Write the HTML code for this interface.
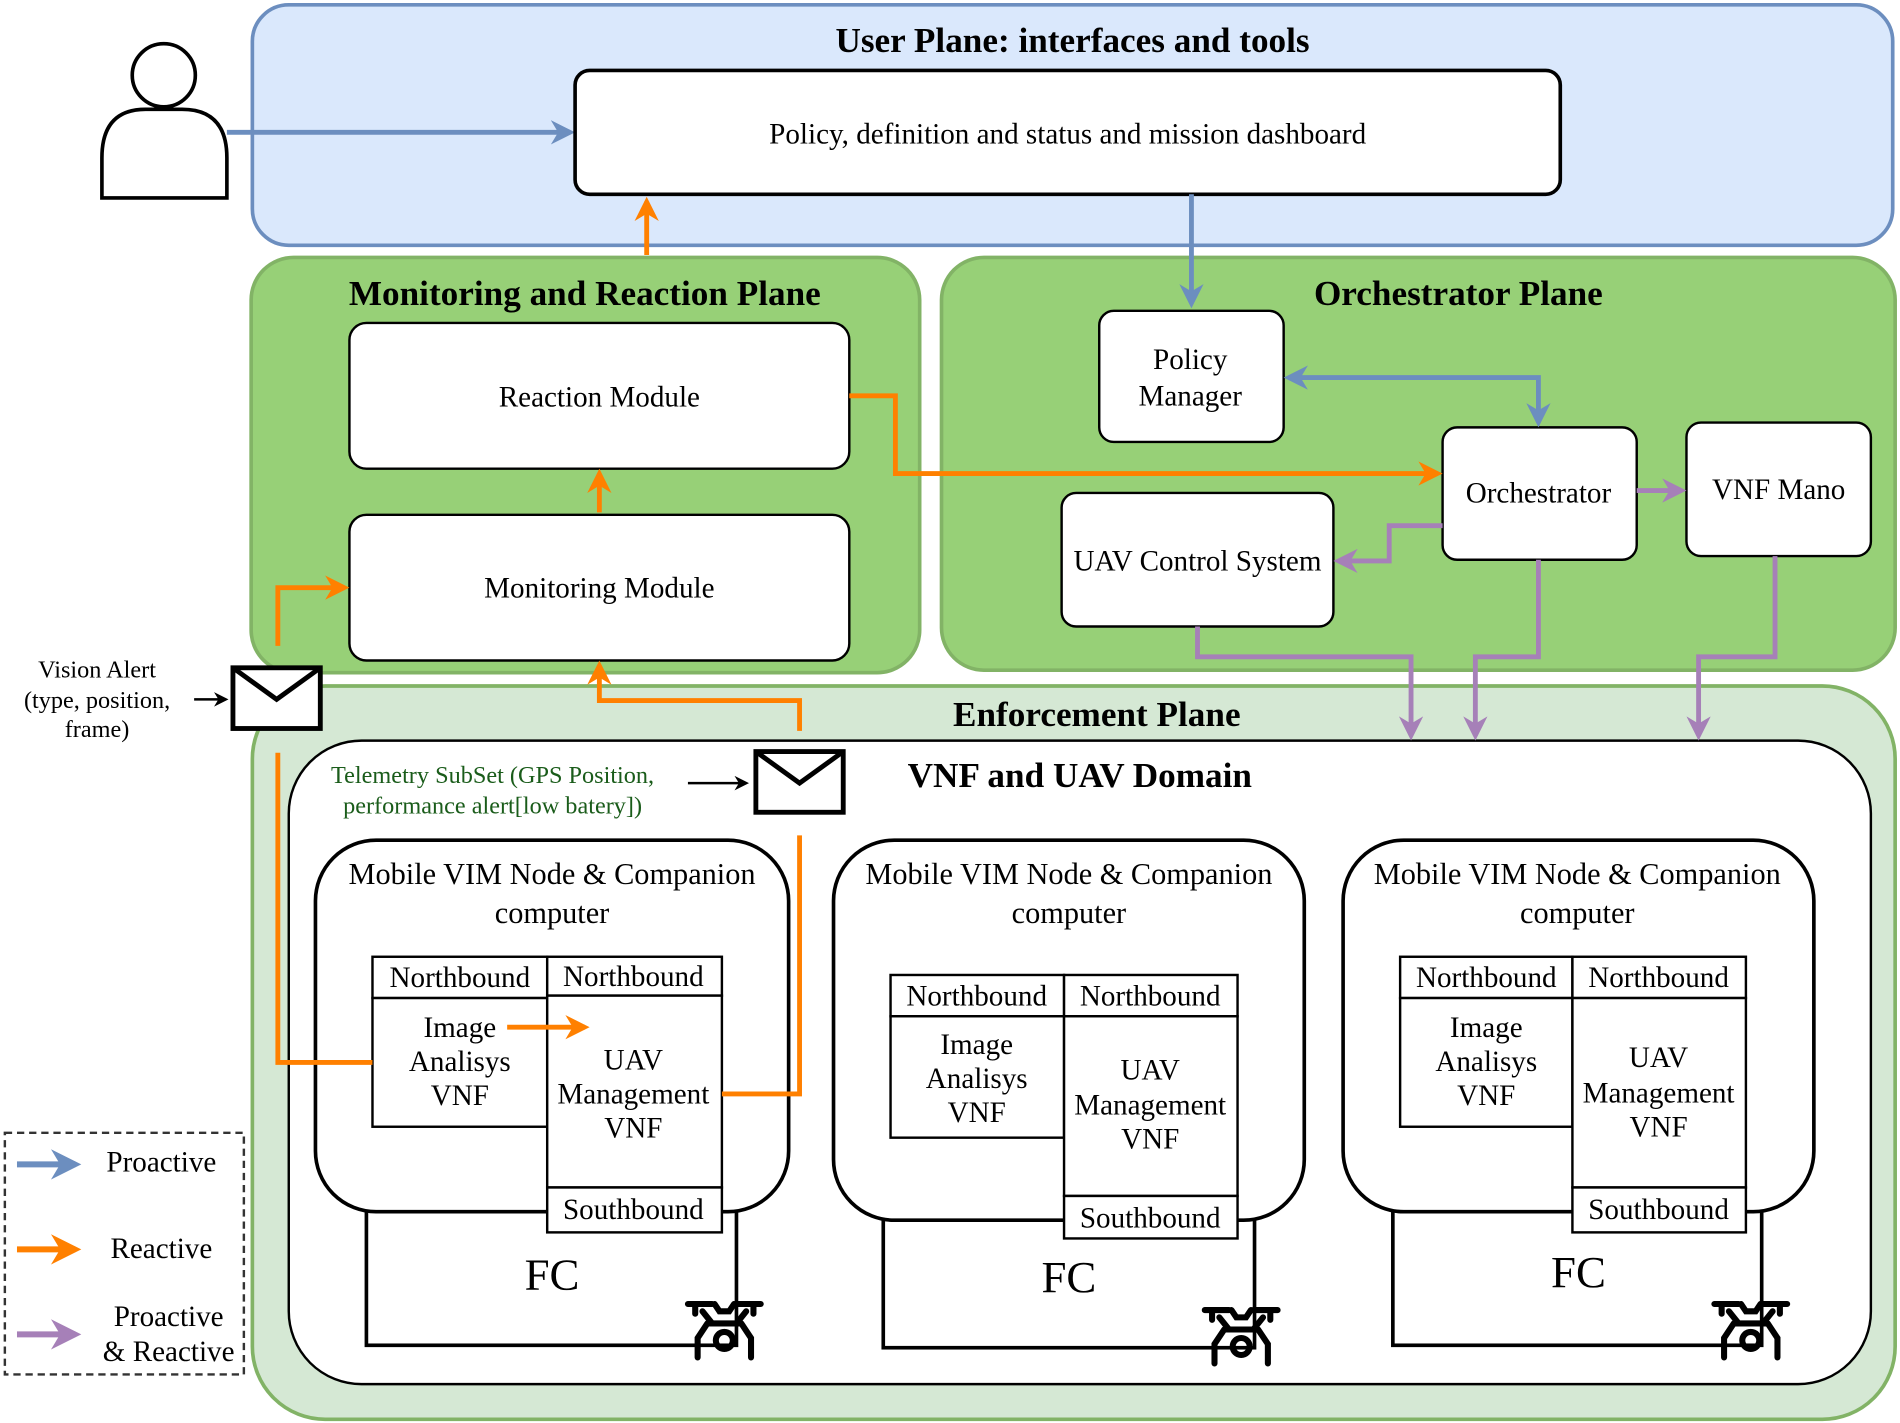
<!DOCTYPE html>
<html><head><meta charset="utf-8"><style>html,body{margin:0;padding:0;background:#fff}svg{display:block}</style></head>
<body>
<svg width="1900" height="1423" viewBox="0 0 1566 1172" preserveAspectRatio="none" xmlns="http://www.w3.org/2000/svg" font-family="Liberation Serif, serif">
<defs>
<marker id="ab" viewBox="0 0 10 10" refX="8" refY="5" markerWidth="5" markerHeight="5" orient="auto-start-reverse"><path d="M0,0 L10,5 L0,10 L3,5z" fill="#6c8ebf"/></marker>
<marker id="ao" viewBox="0 0 10 10" refX="8" refY="5" markerWidth="5" markerHeight="5" orient="auto-start-reverse"><path d="M0,0 L10,5 L0,10 L3,5z" fill="#ff8000"/></marker>
<marker id="ap" viewBox="0 0 10 10" refX="8" refY="5" markerWidth="5" markerHeight="5" orient="auto-start-reverse"><path d="M0,0 L10,5 L0,10 L3,5z" fill="#a680b8"/></marker>
<marker id="ak" viewBox="0 0 10 10" refX="8" refY="5" markerWidth="6" markerHeight="6" orient="auto"><path d="M0,0 L10,5 L0,10 L3,5z" fill="#000"/></marker>
<g id="drone" fill="none" stroke="#000" stroke-width="5" stroke-linecap="round">
<path d="M-30,-18 H-10 M10,-18 H30 M-24,-18 V-10 M24,-18 V-10 M-8,-18 L-4,-12 H4 L8,-18 M-18,-12 L-10,-2 M18,-12 L10,-2 M-14,-2 H14 M-14,-2 L-22,10 V26 M14,-2 L22,10 V26"/>
<circle cx="0" cy="12" r="7"/>
</g>
<g id="env"><rect x="0" y="0" width="72" height="50" fill="#fff" stroke="#000" stroke-width="4"/><path d="M0,0 L36,26 L72,0" fill="none" stroke="#000" stroke-width="4"/></g>
</defs>

<rect x="208" y="4" width="1352" height="198" rx="30" fill="#dae8fc" stroke="#6c8ebf" stroke-width="3"/>
<text x="884" y="43" font-size="29" font-weight="bold" text-anchor="middle">User Plane: interfaces and tools</text>
<circle cx="135" cy="62" r="26" fill="#fff" stroke="#000" stroke-width="3"/>
<path d="M84,163 V130 Q84,90 120,90 H150 Q187,90 187,130 V163 Z" fill="#fff" stroke="#000" stroke-width="3"/>
<line x1="187" y1="109" x2="470" y2="109" stroke="#6c8ebf" stroke-width="4" marker-end="url(#ab)"/>
<rect x="474" y="58" width="812" height="102" rx="12" fill="#fff" stroke="#000" stroke-width="3"/>
<text x="880" y="118" font-size="24" text-anchor="middle">Policy, definition and status and mission dashboard</text>

<rect x="207" y="212" width="551" height="342" rx="35" fill="#97d077" stroke="#82b366" stroke-width="3"/>
<text x="482" y="251" font-size="29" font-weight="bold" text-anchor="middle">Monitoring and Reaction Plane</text>
<rect x="288" y="266" width="412" height="120" rx="14" fill="#fff" stroke="#000" stroke-width="2"/>
<text x="494" y="335" font-size="24" text-anchor="middle">Reaction Module</text>
<rect x="288" y="424" width="412" height="120" rx="14" fill="#fff" stroke="#000" stroke-width="2"/>
<text x="494" y="492" font-size="24" text-anchor="middle">Monitoring Module</text>

<rect x="776" y="212" width="786" height="340" rx="35" fill="#97d077" stroke="#82b366" stroke-width="3"/>
<text x="1202" y="251" font-size="29" font-weight="bold" text-anchor="middle">Orchestrator Plane</text>
<rect x="906" y="256" width="152" height="108" rx="12" fill="#fff" stroke="#000" stroke-width="2"/>
<text x="981" y="304" font-size="24" text-anchor="middle">Policy</text>
<text x="981" y="334" font-size="24" text-anchor="middle">Manager</text>
<rect x="1189" y="352" width="160" height="109" rx="12" fill="#fff" stroke="#000" stroke-width="2"/>
<text x="1268" y="414" font-size="24" text-anchor="middle">Orchestrator</text>
<rect x="1390" y="348" width="152" height="110" rx="12" fill="#fff" stroke="#000" stroke-width="2"/>
<text x="1466" y="411" font-size="24" text-anchor="middle">VNF Mano</text>
<rect x="875" y="406" width="224" height="110" rx="12" fill="#fff" stroke="#000" stroke-width="2"/>
<text x="987" y="470" font-size="24" text-anchor="middle">UAV Control System</text>

<rect x="208" y="565" width="1354" height="604" rx="60" fill="#d5e8d4" stroke="#82b366" stroke-width="3"/>
<text x="904" y="598" font-size="29" font-weight="bold" text-anchor="middle">Enforcement Plane</text>
<rect x="238" y="610" width="1304" height="530" rx="60" fill="#fff" stroke="#000" stroke-width="2"/>
<text x="890" y="648" font-size="29" font-weight="bold" text-anchor="middle">VNF and UAV Domain</text>

<rect x="302" y="990" width="305" height="118" fill="#fff" stroke="#000" stroke-width="3"/>
<rect x="260" y="692" width="390" height="306" rx="50" fill="#fff" stroke="#000" stroke-width="3"/>
<text x="455" y="728" font-size="25" text-anchor="middle">Mobile VIM Node &amp; Companion</text>
<text x="455" y="760" font-size="25" text-anchor="middle">computer</text>
<g fill="#fff" stroke="#000" stroke-width="2">
<rect x="307" y="788" width="144" height="34"/><rect x="307" y="822" width="144" height="106"/>
<rect x="451" y="788" width="144" height="32"/><rect x="451" y="820" width="144" height="158"/><rect x="451" y="978" width="144" height="37"/>
</g>
<g font-size="24" text-anchor="middle">
<text x="379" y="813">Northbound</text><text x="379" y="854">Image</text><text x="379" y="882">Analisys</text><text x="379" y="910">VNF</text>
<text x="522" y="812">Northbound</text><text x="522" y="881">UAV</text><text x="522" y="909">Management</text><text x="522" y="937">VNF</text><text x="522" y="1004">Southbound</text>
</g>
<text x="455" y="1062" font-size="37" text-anchor="middle">FC</text>
<use href="#drone" x="597" y="1092"/>

<rect x="728" y="997" width="306" height="113" fill="#fff" stroke="#000" stroke-width="3"/>
<rect x="687" y="692" width="388" height="313" rx="50" fill="#fff" stroke="#000" stroke-width="3"/>
<text x="881" y="728" font-size="25" text-anchor="middle">Mobile VIM Node &amp; Companion</text>
<text x="881" y="760" font-size="25" text-anchor="middle">computer</text>
<g fill="#fff" stroke="#000" stroke-width="2">
<rect x="734" y="803" width="143" height="34"/><rect x="734" y="837" width="143" height="100"/>
<rect x="877" y="803" width="143" height="34"/><rect x="877" y="837" width="143" height="148"/><rect x="877" y="985" width="143" height="35"/>
</g>
<g font-size="24" text-anchor="middle">
<text x="805" y="828">Northbound</text><text x="805" y="868">Image</text><text x="805" y="896">Analisys</text><text x="805" y="924">VNF</text>
<text x="948" y="828">Northbound</text><text x="948" y="889">UAV</text><text x="948" y="918">Management</text><text x="948" y="946">VNF</text><text x="948" y="1011">Southbound</text>
</g>
<text x="881" y="1064" font-size="37" text-anchor="middle">FC</text>
<use href="#drone" x="1023" y="1097"/>

<rect x="1148" y="992" width="304" height="116" fill="#fff" stroke="#000" stroke-width="3"/>
<rect x="1107" y="692" width="388" height="306" rx="50" fill="#fff" stroke="#000" stroke-width="3"/>
<text x="1300" y="728" font-size="25" text-anchor="middle">Mobile VIM Node &amp; Companion</text>
<text x="1300" y="760" font-size="25" text-anchor="middle">computer</text>
<g fill="#fff" stroke="#000" stroke-width="2">
<rect x="1154" y="788" width="142" height="34"/><rect x="1154" y="822" width="142" height="106"/>
<rect x="1296" y="788" width="143" height="34"/><rect x="1296" y="822" width="143" height="156"/><rect x="1296" y="978" width="143" height="37"/>
</g>
<g font-size="24" text-anchor="middle">
<text x="1225" y="813">Northbound</text><text x="1225" y="854">Image</text><text x="1225" y="882">Analisys</text><text x="1225" y="910">VNF</text>
<text x="1367" y="813">Northbound</text><text x="1367" y="879">UAV</text><text x="1367" y="908">Management</text><text x="1367" y="936">VNF</text><text x="1367" y="1004">Southbound</text>
</g>
<text x="1301" y="1060" font-size="37" text-anchor="middle">FC</text>
<use href="#drone" x="1443" y="1092"/>

<g fill="none" stroke-width="4">
<line x1="533" y1="210" x2="533" y2="166" stroke="#ff8000" marker-end="url(#ao)"/>
<line x1="982" y1="160" x2="982" y2="250" stroke="#6c8ebf" marker-end="url(#ab)"/>
<path d="M1062,311 H1268 V348" stroke="#6c8ebf" marker-start="url(#ab)" marker-end="url(#ab)"/>
<path d="M700,326 H738 V390 H1185" stroke="#ff8000" marker-end="url(#ao)"/>
<line x1="494" y1="422" x2="494" y2="390" stroke="#ff8000" marker-end="url(#ao)"/>
<line x1="1349" y1="404" x2="1386" y2="404" stroke="#a680b8" marker-end="url(#ap)"/>
<path d="M1189,433 H1145 V462 H1103" stroke="#a680b8" marker-end="url(#ap)"/>
<path d="M987,516 V541 H1163 V606" stroke="#a680b8" marker-end="url(#ap)"/>
<path d="M1268,461 V541 H1216 V606" stroke="#a680b8" marker-end="url(#ap)"/>
<path d="M1463,458 V541 H1400 V606" stroke="#a680b8" marker-end="url(#ap)"/>
<path d="M229,532 V484 H284" stroke="#ff8000" marker-end="url(#ao)"/>
<path d="M229,620 V875 H307" stroke="#ff8000"/>
<line x1="418" y1="846" x2="482" y2="846" stroke="#ff8000" marker-end="url(#ao)"/>
<path d="M595,901 H659 V688" stroke="#ff8000"/>
<path d="M659,602 V577 H494 V548" stroke="#ff8000" marker-end="url(#ao)"/>
</g>
<use href="#env" x="192" y="550"/>
<use href="#env" x="623" y="619"/>
<text font-size="20" text-anchor="middle"><tspan x="80" y="558">Vision Alert</tspan><tspan x="80" y="583">(type, position,</tspan><tspan x="80" y="607">frame)</tspan></text>
<line x1="160" y1="576" x2="186" y2="576" stroke="#000" stroke-width="2" marker-end="url(#ak)"/>
<text font-size="20" text-anchor="middle" fill="#1a5c1a"><tspan x="406" y="645">Telemetry SubSet (GPS Position,</tspan><tspan x="406" y="670">performance alert[low batery])</tspan></text>
<line x1="567" y1="645" x2="615" y2="645" stroke="#000" stroke-width="2" marker-end="url(#ak)"/>

<rect x="4" y="933" width="197" height="199" fill="#fff" stroke="#333" stroke-width="2" stroke-dasharray="6,4"/>
<g stroke-width="5">
<line x1="14" y1="959" x2="62" y2="959" stroke="#6c8ebf" marker-end="url(#ab)"/>
<line x1="14" y1="1029" x2="62" y2="1029" stroke="#ff8000" marker-end="url(#ao)"/>
<line x1="14" y1="1099" x2="62" y2="1099" stroke="#a680b8" marker-end="url(#ap)"/>
</g>
<g font-size="24" text-anchor="middle">
<text x="133" y="965">Proactive</text>
<text x="133" y="1036">Reactive</text>
<text x="139" y="1092">Proactive</text>
<text x="139" y="1121">&amp; Reactive</text>
</g>
</svg>
</body></html>
